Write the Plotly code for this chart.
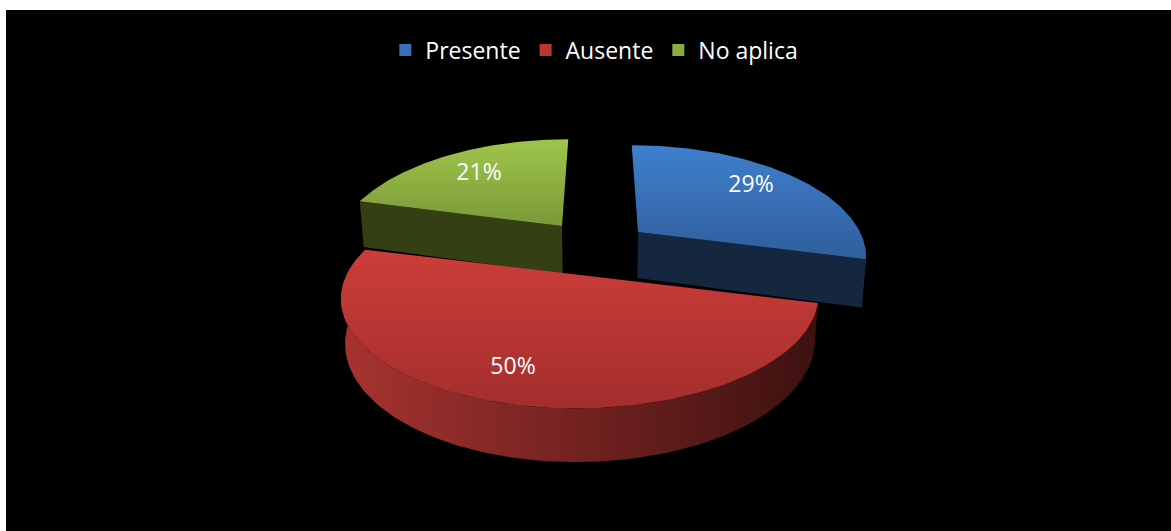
import numpy as np
import plotly.graph_objects as go

categories = ["Presente", "Ausente", "No aplica"]
shares = [29, 50, 21]

# Styling and projection of the tilted pie (pixels of the picture)
FONT = "Open Sans"
SLICE_STYLE = {
    "Presente": dict(cx=638, cy=232, rx=222, ry=104, depth=46, face=("#3f7fcd", "#2f5e9c"), side=("#14273f", "#14273f"), legend="#3a70b5", label=(751, 184)),
    "Ausente": dict(cx=580.5, cy=275, rx=234, ry=107, depth=43, face=("#cc3d39", "#a32e2c"), side=("#a83330", "#3c1110"), legend="#b93633", label=(513, 366)),
    "No aplica": dict(cx=562, cy=226, rx=221, ry=104, depth=48, face=("#9ec54a", "#7b9a39"), side=("#343f14", "#343f14"), legend="#8bad3f", label=(479, 172)),
}
K = 0.198
PX = 600
CONVERGE = 0.016

fractions = np.array(shares) / sum(shares)
ends = np.cumsum(fractions) * 2 * np.pi
starts = ends - fractions * 2 * np.pi


def project(st, theta, r=1.0, down=0.0):
    X, Y = r * np.sin(theta), r * np.cos(theta)
    s = 1 / (1 + K * Y)
    x = PX + (st["cx"] - PX + st["rx"] * X) * s
    x = PX + (x - PX) * (1 - CONVERGE * down)
    return x, st["cy"] - st["ry"] * Y * s + down * st["depth"] * s


def grad(kind, colors):
    return dict(type=kind, colorscale=[[0, colors[0]], [1, colors[1]]])


fig = go.Figure()
paint_order = [2, 0, 1]
for i in paint_order:
    name = categories[i]
    st = SLICE_STYLE[name]
    th = np.linspace(starts[i], ends[i], 120)
    ax, ay = project(st, th)
    apex = project(st, np.array([0.0]), r=0.0)
    apex_low = project(st, np.array([0.0]), r=0.0, down=1)
    if name == "Ausente":
        bx, by = project(st, th[::-1], down=1)
        sx = np.r_[ax, bx, ax[0]]
        sy = np.r_[ay, by, ay[0]]
        kind = "horizontal"
        colors = st["side"]
    else:
        edge = starts[i] if name == "No aplica" else ends[i]
        ex, ey = project(st, np.array([edge]))
        ebx, eby = project(st, np.array([edge]), down=1)
        sx = np.r_[apex[0], ex, ebx, apex_low[0], apex[0]]
        sy = np.r_[apex[1], ey, eby, apex_low[1], apex[1]]
        kind = "vertical"
        colors = st["side"]
    fig.add_trace(go.Scatter(x=sx, y=sy, mode="lines", line=dict(width=0), fill="toself",
                             fillgradient=grad(kind, colors), showlegend=False, hoverinfo="skip"))
    fig.add_trace(go.Scatter(x=np.r_[apex[0], ax, apex[0]], y=np.r_[apex[1], ay, apex[1]], mode="lines",
                             line=dict(width=0), fill="toself",
                             fillgradient=grad("vertical", (st["face"][1], st["face"][0])),
                             showlegend=False, hoverinfo="skip"))

for name, value in zip(categories, shares):
    st = SLICE_STYLE[name]
    fig.add_trace(go.Scatter(x=[None], y=[None], mode="markers", name=name,
                             marker=dict(symbol="square", size=16, color=st["legend"])))
    fig.add_trace(go.Scatter(x=[st["label"][0]], y=[st["label"][1] + 2], mode="text", text=[f"{value}%"],
                             textposition="middle center", textfont=dict(color="white", size=23, family=FONT),
                             showlegend=False, hoverinfo="skip"))

fig.update_layout(
    width=1171, height=531,
    margin=dict(l=6, r=0, t=10, b=0),
    paper_bgcolor="white", plot_bgcolor="black",
    xaxis=dict(range=[6, 1171], visible=False, fixedrange=True),
    yaxis=dict(range=[531, 10], visible=False, fixedrange=True),
    showlegend=True,
    legend=dict(orientation="h", x=0.505, y=0.923, xanchor="center", yanchor="middle",
                bgcolor="rgba(0,0,0,0)", font=dict(color="white", size=23, family=FONT),
                itemsizing="constant", traceorder="normal"),
)
fig.write_html("out.html", config=dict(displayModeBar=False),
               post_script="document.body.style.margin='0';document.documentElement.style.overflow='hidden';")
